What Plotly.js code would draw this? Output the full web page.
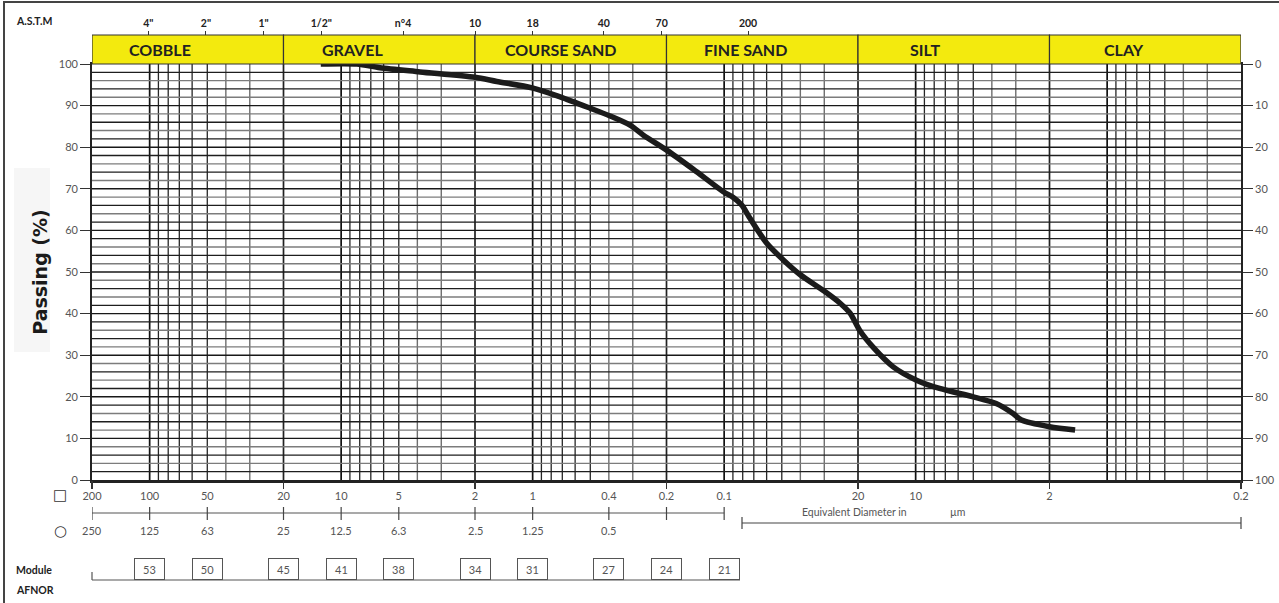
<!DOCTYPE html>
<html><head><meta charset="utf-8">
<script src="https://cdn.plot.ly/plotly-3.0.1.min.js"></script>
<style>html,body{margin:0;padding:0;background:#fff}#chart{width:1279px;height:603px}</style>
</head><body><div id="chart"></div>
<script>
// ---------------- data ----------------
const grainSize = [12.78, 8.26, 6.27, 3.87, 2.0, 1.54, 0.995, 0.719, 0.502, 0.394, 0.310, 0.264, 0.1996, 0.1449, 0.101, 0.0896, 0.081, 0.0733, 0.0599, 0.0491, 0.0402, 0.0298, 0.0248, 0.022, 0.0195, 0.0166, 0.0131, 0.0099, 0.0075, 0.0050, 0.0038, 0.0031, 0.0028, 0.0020, 0.00147];
const passing   = [100, 100, 99.1, 98.1, 96.8, 95.8, 94.2, 92.1, 89.4, 87.5, 85.3, 82.9, 79.3, 74.7, 69.3, 67.9, 66.1, 62.9, 56.9, 52.9, 49.4, 45.3, 42.5, 40.1, 35.8, 31.8, 27.2, 24.0, 22.0, 20.0, 18.4, 16.0, 14.4, 12.8, 12.0];

const sections      = ['COBBLE', 'GRAVEL', 'COURSE SAND', 'FINE SAND', 'SILT', 'CLAY'];
const sectionBounds = [200, 20, 2, 0.2, 0.02, 0.002, 0.0002];

const astmLabels = ['4"', '2"', '1"', '1/2"', 'n°4', '10', '18', '40', '70', '200'];
const astmSizes  = [101.6, 50.8, 25.4, 12.7, 4.75, 2.0, 1.0, 0.425, 0.212, 0.075];

const squareLabels = ['200','100','50','20','10','5','2','1','0.4','0.2','0.1','20','10','2','0.2'];
const squareSizes  = [200, 100, 50, 20, 10, 5, 2, 1, 0.4, 0.2, 0.1, 0.02, 0.01, 0.002, 0.0002];

const roundLabels = ['250','125','63','25','12.5','6.3','2.5','1.25','0.5','',''];
const roundSizes  = [200, 100, 50, 20, 10, 5, 2, 1, 0.4, 0.2, 0.1];

const moduleValues = [53, 50, 45, 41, 38, 34, 31, 27, 24, 21];
const moduleSizes  = [100, 50, 20, 10, 5, 2, 1, 0.4, 0.2, 0.1];

const passingTicks = [0, 10, 20, 30, 40, 50, 60, 70, 80, 90, 100];

// ---------------- layout helpers ----------------
const W = 1279, H = 603, ML = 92, MR = 38, MT = 35, MB = 123;
const plotW = W - ML - MR, plotH = H - MT - MB;
const px = X => (X - ML) / plotW;
const py = Y => (H - MB - Y) / plotH;
const yTop = py(64);
const xRange = [Math.log10(200), Math.log10(0.0002)];
const labelFrac = [0.355, 0.36, 0.444, 0.41, 0.35, 0.39];

// ---------------- grid traces ----------------
const grid = {
  bound: {x: [], y: [], color: '#222', w: 1.7},
  dark:  {x: [], y: [], color: '#111', w: 1.7},
  mid:   {x: [], y: [], color: '#262626', w: 1.3},
  light: {x: [], y: [], color: '#6e6e6e', w: 1.4},
  hMid:  {x: [], y: [], color: '#1e1e1e', w: 1.3},
  hLight:{x: [], y: [], color: '#7c7c7c', w: 1.4},
  hDark: {x: [], y: [], color: '#181818', w: 1.4}
};
for (let j = 2; j >= -4; j--) {
  for (let m = 9; m >= 1; m--) {
    const v = +(m * Math.pow(10, j)).toPrecision(6);
    if (v >= 200 || v <= 0.0002) continue;
    const g = m === 2 ? 'bound' : m === 1 ? 'dark' : (m === 3 || m === 4) ? 'light' : 'mid';
    grid[g].x.push(v, v, null); grid[g].y.push(0, 100, null);
  }
}
for (let v = 2; v < 100; v += 2) {
  const g = v % 10 === 0 ? 'hDark' : ((v / 2) % 2 === 1 ? 'hMid' : 'hLight');
  grid[g].x.push(200, 0.0002, null); grid[g].y.push(v, v, null);
}
const traces = Object.values(grid).map(g => ({
  type: 'scatter', mode: 'lines', x: g.x, y: g.y, xaxis: 'x', yaxis: 'y',
  line: {color: g.color, width: g.w}, hoverinfo: 'skip', showlegend: false
}));
// helper traces so overlay axes are drawn
traces.push({type:'scatter', mode:'markers', x: astmSizes, y: astmSizes.map(() => 50), xaxis:'x2', yaxis:'y', marker:{opacity:0}, hoverinfo:'skip', showlegend:false});
traces.push({type:'scatter', mode:'markers', x: sectionBounds, y: sectionBounds.map(() => 50), xaxis:'x3', yaxis:'y', marker:{opacity:0}, hoverinfo:'skip', showlegend:false});
traces.push({type:'scatter', mode:'markers', x: [1], y: [50], xaxis:'x', yaxis:'y2', marker:{opacity:0}, hoverinfo:'skip', showlegend:false});
// grading curve
traces.push({
  type: 'scatter', mode: 'lines', x: grainSize, y: passing, xaxis: 'x', yaxis: 'y',
  line: {color: '#1b1b1b', width: 5.5, shape: 'spline', smoothing: 0.8},
  hoverinfo: 'x+y', showlegend: false
});

// ---------------- shapes ----------------
const shapes = [];
// outer frame
shapes.push({type:'rect', xref:'paper', yref:'paper', x0:px(4), x1:px(1300), y0:py(620), y1:py(2), line:{color:'#444', width:2}, fillcolor:'rgba(0,0,0,0)'});
// light scan patch behind y title
shapes.push({type:'rect', xref:'paper', yref:'paper', x0:px(14), x1:px(50), y0:py(352), y1:py(168), line:{width:0}, fillcolor:'#f6f6f6', layer:'below'});
// header bands
for (let i = 0; i < sections.length; i++) {
  shapes.push({type:'rect', xref:'x', yref:'paper', x0:sectionBounds[i], x1:sectionBounds[i+1], y0:yTop, y1:1,
    fillcolor:'#f3ea0e', line:{color:'#333', width:1.2}});
}
// round-hole sieve row
shapes.push({type:'line', xref:'x', yref:'paper', x0:roundSizes[0], x1:roundSizes[roundSizes.length-1], y0:py(513), y1:py(513), line:{color:'#555', width:1.2}});
roundSizes.forEach(v => shapes.push({type:'line', xref:'x', yref:'paper', x0:v, x1:v, y0:py(507), y1:py(520), line:{color:'#444', width:1.2}}));
// equivalent diameter bracket
shapes.push({type:'line', xref:'paper', yref:'paper', x0:px(742), x1:1, y0:py(523), y1:py(523), line:{color:'#444', width:1.2}});
shapes.push({type:'line', xref:'paper', yref:'paper', x0:px(742), x1:px(742), y0:py(517), y1:py(529), line:{color:'#444', width:1.2}});
shapes.push({type:'line', xref:'paper', yref:'paper', x0:1, x1:1, y0:py(517), y1:py(529), line:{color:'#444', width:1.2}});
// module baseline
shapes.push({type:'line', xref:'paper', yref:'paper', x0:0, x1:px(740), y0:py(580), y1:py(580), line:{color:'#555', width:1.2}});
shapes.push({type:'line', xref:'paper', yref:'paper', x0:0, x1:0, y0:py(572), y1:py(580), line:{color:'#555', width:1.2}});

// ---------------- annotations ----------------
const ann = [];
const A = (o) => ann.push(Object.assign({showarrow:false, xanchor:'center', yanchor:'middle'}, o));
sections.forEach((s, i) => A({
  xref:'x', yref:'paper', x: Math.log10(sectionBounds[i]) - labelFrac[i], y: py(50),
  text: s, font:{family:'Lato, sans-serif', size:16, color:'#222', weight:'bold'}
}));
A({xref:'paper', yref:'paper', x:px(14), y:py(21), xanchor:'left', text:'A.S.T.M', font:{family:'Lato, sans-serif', size:10.5, color:'#222', weight:'bold'}});
A({xref:'paper', yref:'paper', x:px(60), y:py(495), text:'□', font:{family:'DejaVu Sans', size:15, color:'#333'}});
A({xref:'paper', yref:'paper', x:px(60), y:py(531), text:'○', font:{family:'DejaVu Sans', size:15, color:'#333'}});
roundSizes.forEach((v, i) => { if (roundLabels[i]) A({
  xref:'x', yref:'paper', x: Math.log10(v), y: py(530), text: roundLabels[i],
  font:{family:'Lato, sans-serif', size:11, color:'#555'}
});});
A({xref:'paper', yref:'paper', x:px(800), y:py(512), xanchor:'left', text:'Equivalent Diameter in', font:{family:'Lato, sans-serif', size:10.5, color:'#555'}});
A({xref:'paper', yref:'paper', x:px(948), y:py(512), xanchor:'left', text:'µm', font:{family:'Lato, sans-serif', size:10.5, color:'#555'}});
A({xref:'paper', yref:'paper', x:px(14), y:py(570), xanchor:'left', text:'Module', font:{family:'Lato, sans-serif', size:10.5, color:'#222', weight:'bold'}});
A({xref:'paper', yref:'paper', x:px(14), y:py(590), xanchor:'left', text:'AFNOR', font:{family:'Lato, sans-serif', size:10.5, color:'#222', weight:'bold'}});
moduleValues.forEach((m, i) => A({
  xref:'x', yref:'paper', x: Math.log10(moduleSizes[i]), y: py(569), text: String(m),
  font:{family:'Lato, sans-serif', size:11, color:'#555'}, bordercolor:'#555', borderwidth:1, borderpad:1,
  width:27, height:18, bgcolor:'#fff'
}));

// ---------------- layout ----------------
const layout = {
  width: W, height: H, margin: {l: ML, r: MR, t: MT, b: MB},
  paper_bgcolor: '#fff', plot_bgcolor: '#fff', showlegend: false,
  font: {family: 'Lato, sans-serif', color: '#555'},
  xaxis: {type:'log', range:xRange, tickmode:'array', tickvals:squareSizes, ticktext:squareLabels,
    ticks:'outside', ticklen:4, tickcolor:'rgba(0,0,0,0)', tickfont:{size:11, color:'#555'},
    showgrid:false, zeroline:false, showline:true, linecolor:'#222', linewidth:2.5, mirror:true, fixedrange:true},
  xaxis2: {type:'log', overlaying:'x', anchor:'free', position:1, side:'top', range:xRange,
    tickmode:'array', tickvals:astmSizes, ticktext:astmLabels, ticks:'outside', ticklen:4, tickcolor:'#333',
    tickfont:{size:10.5, color:'#222', weight:'bold'}, showgrid:false, showline:false, zeroline:false, fixedrange:true},
  xaxis3: {type:'log', overlaying:'x', anchor:'y', side:'bottom', range:xRange, tickmode:'array', tickvals:sectionBounds,
    ticks:'outside', ticklen:8, tickcolor:'#333', tickwidth:1.2, showticklabels:false, showgrid:false, showline:false, zeroline:false, fixedrange:true},
  yaxis: {domain:[0, yTop], range:[0, 100], tickmode:'array', tickvals:passingTicks, ticks:'outside', ticklen:10, tickcolor:'#333',
    tickfont:{size:11, color:'#555'}, showgrid:false, zeroline:false, showline:true, linecolor:'#222', linewidth:1.8, fixedrange:true,
    title:{text:'Passing (%)', font:{family:'DejaVu Sans', size:19, color:'#1a1a1a', weight:'bold'}, standoff:6}},
  yaxis2: {overlaying:'y', side:'right', anchor:'x', range:[100, 0], tickmode:'array', tickvals:passingTicks, ticks:'outside', ticklen:10,
    tickcolor:'#333', tickfont:{size:11, color:'#555'}, showgrid:false, zeroline:false, showline:true, linecolor:'#222', linewidth:1.8, fixedrange:true},
  shapes: shapes,
  annotations: ann
};

Plotly.newPlot('chart', traces, layout, {displayModeBar:false, staticPlot:true});
</script>
</body></html>
